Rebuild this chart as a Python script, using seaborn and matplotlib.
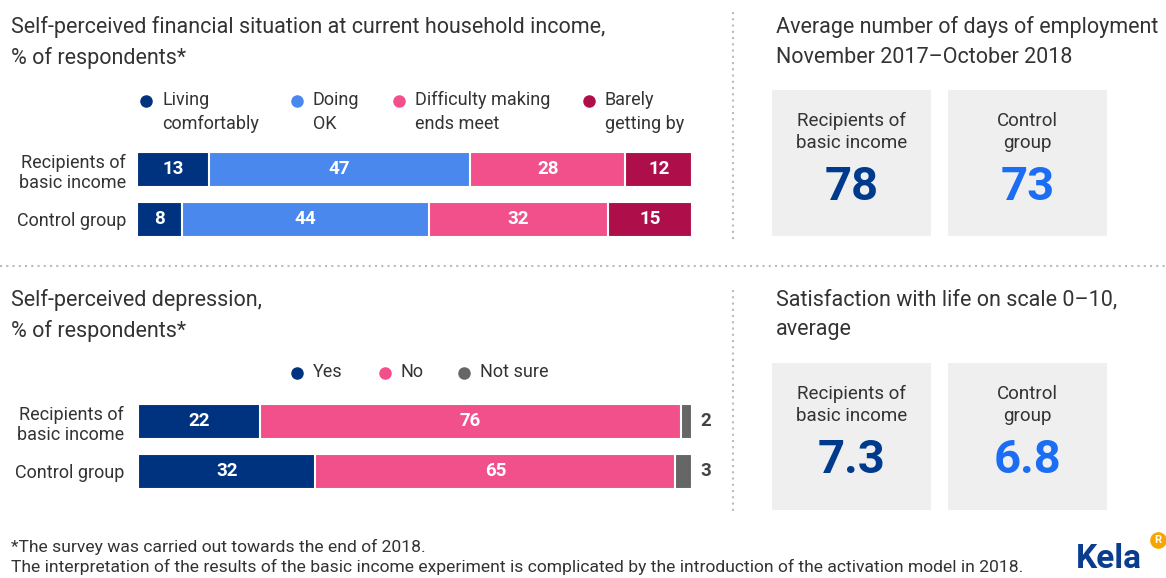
import pandas as pd
import numpy as np
import seaborn as sns
import matplotlib.pyplot as plt
from matplotlib.patches import Rectangle
from matplotlib.lines import Line2D

# data
groups = ['Recipients of\nbasic income', 'Control group']

fin_cats = ['Living\ncomfortably', 'Doing\nOK', 'Difficulty making\nends meet', 'Barely\ngetting by']
fin_recip = [13, 47, 28, 12]
fin_control = [8, 44, 32, 15]
fin_colors = ['#00337f', '#4a88ee', '#f2508a', '#ae0f4a']

dep_cats = ['Yes', 'No', 'Not sure']
dep_recip = [22, 76, 2]
dep_control = [32, 65, 3]
dep_colors = ['#00337f', '#f2508a', '#666666']

box_groups = ['Recipients of\nbasic income', 'Control\ngroup']
employment_days = [78, 73]
life_satisfaction = [7.3, 6.8]
box_num_colors = ['#003a8c', '#1b6ef3']

sns.set_theme(style='white')
plt.rcParams['font.family'] = ['Roboto', 'DejaVu Sans']

W, H = 1166, 578
fig = plt.figure(figsize=(W / 100, H / 100), dpi=100)
fig.patch.set_facecolor('white')


def fx(x):
    return x / W


def fy(y):
    return 1 - y / H


def add_ax(left, top, right, bottom):
    return fig.add_axes([fx(left), fy(bottom), (right - left) / W, (bottom - top) / H])


def ftext(x, y, s, **kw):
    kw.setdefault('color', '#333333')
    fig.text(fx(x), fy(y), s, **kw)


def stacked(ax, rows, cats, colors, outside_last=False, pad=8):
    vals = np.array(rows, dtype=float)
    shares = vals / vals.sum(axis=1, keepdims=True) * 100
    cum = shares.cumsum(axis=1)
    df = pd.DataFrame(cum, columns=cats)
    df['group'] = groups
    # draw cumulative bars from the longest to the shortest
    for i in range(len(cats) - 1, -1, -1):
        sns.barplot(data=df, x=cats[i], y='group', color=colors[i], saturation=1,
                    width=0.7, edgecolor='white', linewidth=1.5, orient='h', ax=ax)
    for r in range(len(groups)):
        for i in range(len(cats)):
            if outside_last and i == len(cats) - 1:
                ax.text(101.5, r, str(rows[r][i]), ha='left', va='center',
                        color='#444444', fontsize=13.5, fontweight='bold')
            else:
                ax.text(cum[r, i] - shares[r, i] / 2, r, str(rows[r][i]), ha='center',
                        va='center', color='white', fontsize=13.5, fontweight='bold')
    ax.set_xlim(0, 100)
    ax.set_xlabel('')
    ax.set_ylabel('')
    ax.set_xticks([])
    ax.tick_params(axis='y', length=0, pad=pad, labelsize=13, labelcolor='#333333')
    sns.despine(ax=ax, left=True, bottom=True)


# financial situation
ax1 = add_ax(137, 144.5, 692, 244.5)
stacked(ax1, [fin_recip, fin_control], fin_cats, fin_colors, pad=8)

ftext(11, 16, 'Self-perceived financial situation at current household income,\n% of respondents*',
      fontsize=15.5, va='top', linespacing=1.55)

for xm, lab, c in zip([146, 297, 399, 589], fin_cats, fin_colors):
    fig.add_artist(Line2D([fx(xm)], [fy(101)], marker='o', markersize=8, color=c,
                          transform=fig.transFigure))
    ftext(xm + 16, 91, lab, fontsize=13, va='top', linespacing=1.45)

# depression
ax2 = add_ax(138, 396.5, 692, 496.5)
stacked(ax2, [dep_recip, dep_control], dep_cats, dep_colors, outside_last=True, pad=10)

ftext(11, 289, 'Self-perceived depression,\n% of respondents*', fontsize=15.5, va='top',
      linespacing=1.55)

for xm, lab, c in zip([297, 385, 464], dep_cats, dep_colors):
    fig.add_artist(Line2D([fx(xm)], [fy(373)], marker='o', markersize=8, color=c,
                          transform=fig.transFigure))
    ftext(xm + 16, 372, lab, fontsize=13, va='center')

# right side boxes
ftext(776, 16, 'Average number of days of employment\nNovember 2017\u2013October 2018',
      fontsize=15.5, va='top', linespacing=1.55)
ftext(776, 289, 'Satisfaction with life on scale 0\u201310,\naverage',
      fontsize=15.5, va='top', linespacing=1.55)


def boxes(top, bottom, values):
    for k, x0 in enumerate([772, 948]):
        fig.add_artist(Rectangle((fx(x0), fy(bottom)), 159 / W, (bottom - top) / H,
                                 transform=fig.transFigure, facecolor='#efefef',
                                 edgecolor='none'))
        cx = x0 + 79.5
        ftext(cx, top + 42, box_groups[k], fontsize=13.5, ha='center', va='center',
              linespacing=1.25)
        ftext(cx, top + 97, f'{values[k]}', fontsize=34, fontweight='bold', ha='center',
              va='center', color=box_num_colors[k])


boxes(90, 236, employment_days)
boxes(363, 510, life_satisfaction)

# dotted separators
dot = dict(color='#bbbbbb', linestyle=(0, (1, 2)), linewidth=1.5, transform=fig.transFigure)
fig.add_artist(Line2D([0, 1], [fy(266), fy(266)], **dot))
fig.add_artist(Line2D([fx(733), fx(733)], [fy(12), fy(240)], **dot))
fig.add_artist(Line2D([fx(733), fx(733)], [fy(290), fy(512)], **dot))

# footer
ftext(11, 547, '*The survey was carried out towards the end of 2018.', fontsize=12.6, va='center')
ftext(11, 567, 'The interpretation of the results of the basic income experiment is complicated '
      'by the introduction of the activation model in 2018.', fontsize=12.6, va='center')

ftext(1076, 559, 'Kela', fontsize=24, fontweight='bold', color='#0a3d8f', va='center')
fig.add_artist(Line2D([fx(1158)], [fy(540)], marker='o', markersize=12, color='#f7a600',
                      markeredgewidth=0, transform=fig.transFigure))
ftext(1158, 540, 'R', fontsize=8, fontweight='bold', color='white', ha='center', va='center')

fig.savefig('out.png', dpi=100)
